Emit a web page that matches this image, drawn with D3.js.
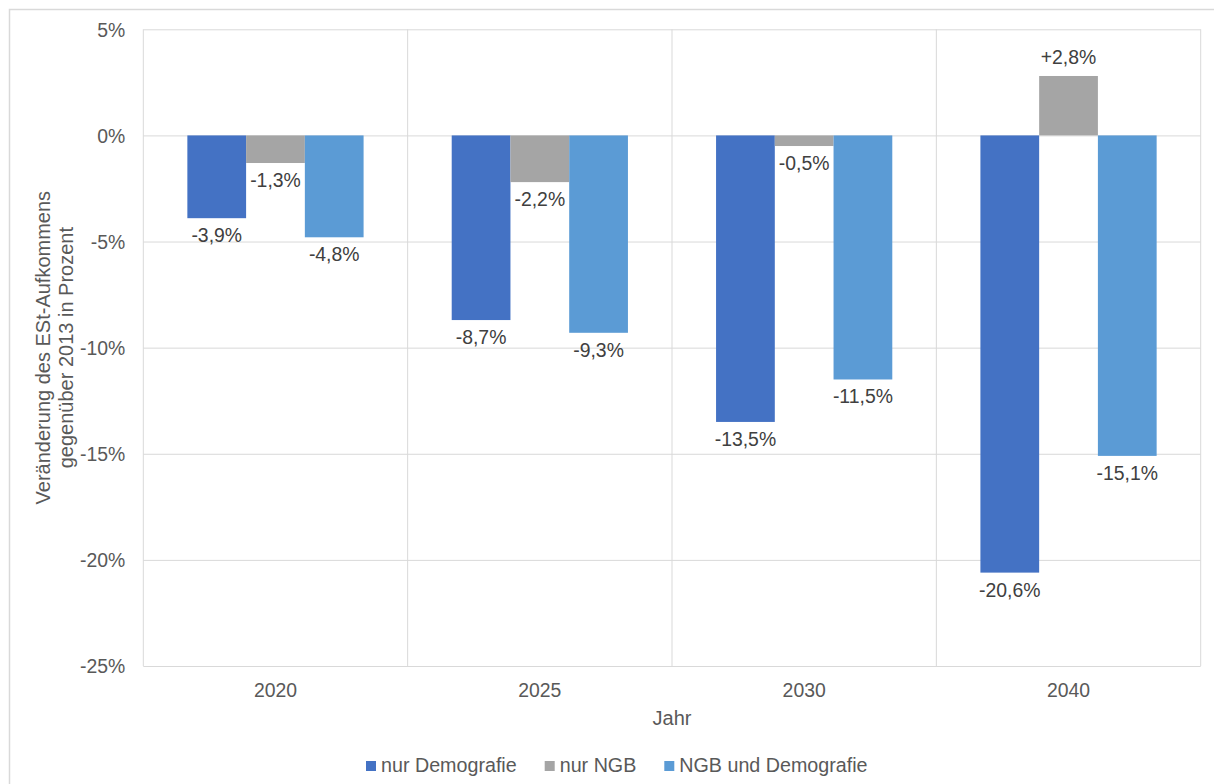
<!DOCTYPE html>
<html>
<head>
<meta charset="utf-8">
<script src="https://cdn.jsdelivr.net/npm/d3@7"></script>
<style>
  body { margin: 0; background: #fff; }
  svg { display: block; font-family: "Liberation Sans", Arial, sans-serif; }
</style>
</head>
<body>
<svg id="chart" width="1214" height="784"></svg>
<script>
const years = ["2020", "2025", "2030", "2040"]
const seriesNames = ["nur Demografie", "nur NGB", "NGB und Demografie"]
const nurDemografie = [-3.9, -8.7, -13.5, -20.6]
const nurNGB = [-1.3, -2.2, -0.5, 2.8]
const ngbUndDemografie = [-4.8, -9.3, -11.5, -15.1]
const yTicks = [5, 0, -5, -10, -15, -20, -25]
const seriesColors = ["#4472C4", "#A5A5A5", "#5B9BD5"]

const values = [nurDemografie, nurNGB, ngbUndDemografie]
const data = years.map((year, i) => ({
  year,
  bars: seriesNames.map((name, s) => ({name, s, value: values[s][i]}))
}))

// ===== layout =====
const W = 1214, H = 784
const plot = {left: 143.3, right: 1200.7, top: 29.3, bottom: 666}
const textColor = "#595959"
const labelColor = "#404040"
const gridColor = "#D9D9D9"
const fontSize = 19.4
const titleFontSize = 20
const legendFontSize = 19.7

const svg = d3.select("#chart")

// outer chart border (only left and top edges visible in the picture)
svg.append("rect")
  .attr("x", 9.5).attr("y", 9.5)
  .attr("width", W + 20).attr("height", H + 20)
  .attr("fill", "none").attr("stroke", gridColor).attr("stroke-width", 1.5)

const x0 = d3.scaleBand().domain(years).range([plot.left, plot.right]).padding(0)
const x1 = d3.scaleBand().domain(d3.range(seriesNames.length))
  .range([0, x0.bandwidth()]).paddingInner(0).paddingOuter(0.75)
const y = d3.scaleLinear().domain([-25, 5]).range([plot.bottom, plot.top])

// horizontal gridlines
svg.append("g")
  .attr("transform", `translate(${plot.left},0)`)
  .call(d3.axisLeft(y).tickValues(yTicks).tickSize(-(plot.right - plot.left)).tickFormat(""))
  .call(g => g.select(".domain").remove())
  .call(g => g.selectAll("line").attr("stroke", gridColor).attr("stroke-width", 1))

// vertical gridlines at category boundaries
const bounds = years.map(d => x0(d)).concat([plot.right])
svg.append("g").selectAll("line")
  .data(bounds)
  .join("line")
  .attr("x1", d => d).attr("x2", d => d)
  .attr("y1", plot.top).attr("y2", plot.bottom)
  .attr("stroke", gridColor).attr("stroke-width", 1)

// y axis labels
svg.append("g")
  .attr("transform", `translate(${plot.left - 18},0)`)
  .call(d3.axisLeft(y).tickValues(yTicks).tickSize(0).tickFormat(d => d + "%"))
  .call(g => g.select(".domain").remove())
  .call(g => g.selectAll("text")
    .attr("x", 0).attr("dy", "0.35em")
    .attr("fill", textColor).style("font-size", fontSize + "px").style("font-family", null))

// x axis labels
svg.append("g")
  .attr("transform", `translate(0,${plot.bottom})`)
  .call(d3.axisBottom(x0).tickSize(0))
  .call(g => g.select(".domain").remove())
  .call(g => g.selectAll("text")
    .attr("y", 30.5).attr("dy", null)
    .attr("fill", textColor).style("font-size", fontSize + "px").style("font-family", null))

// bars
const groups = svg.append("g").selectAll("g")
  .data(data)
  .join("g")
  .attr("transform", d => `translate(${x0(d.year)},0)`)

groups.selectAll("rect")
  .data(d => d.bars)
  .join("rect")
  .attr("x", d => x1(d.s))
  .attr("width", x1.bandwidth())
  .attr("y", d => y(Math.max(0, d.value)))
  .attr("height", d => Math.abs(y(d.value) - y(0)))
  .attr("fill", d => seriesColors[d.s])

const fmt = v => (v > 0 ? "+" : "") + v.toFixed(1).replace(".", ",") + "%"

groups.selectAll("text")
  .data(d => d.bars)
  .join("text")
  .attr("x", d => x1(d.s) + x1.bandwidth() / 2)
  .attr("y", d => d.value < 0 ? y(d.value) + 24 : y(d.value) - 12)
  .attr("text-anchor", "middle")
  .attr("fill", labelColor)
  .style("font-size", fontSize + "px")
  .text(d => fmt(d.value))

// axis titles
svg.append("text")
  .attr("x", (plot.left + plot.right) / 2).attr("y", 725)
  .attr("text-anchor", "middle")
  .attr("fill", textColor).style("font-size", titleFontSize + "px")
  .text("Jahr")

const yTitle = svg.append("text")
  .attr("transform", `translate(0,${(plot.top + plot.bottom) / 2}) rotate(-90)`)
  .attr("text-anchor", "middle")
  .attr("fill", textColor).style("font-size", titleFontSize + "px")
yTitle.append("tspan").attr("x", 0).attr("y", 50).text("Veränderung des ESt-Aufkommens")
yTitle.append("tspan").attr("x", 0).attr("y", 73).text("gegenüber 2013 in Prozent")

// legend
const legend = svg.append("g").attr("transform", "translate(366,0)")
let lx = 0
seriesNames.forEach((name, s) => {
  const item = legend.append("g").attr("transform", `translate(${lx},0)`)
  item.append("rect")
    .attr("x", 0).attr("y", 761).attr("width", 10).attr("height", 10)
    .attr("fill", seriesColors[s])
  const t = item.append("text")
    .attr("x", 15).attr("y", 772)
    .attr("fill", textColor).style("font-size", legendFontSize + "px")
    .text(name)
  lx += 15 + t.node().getComputedTextLength() + 28
})
</script>
</body>
</html>
